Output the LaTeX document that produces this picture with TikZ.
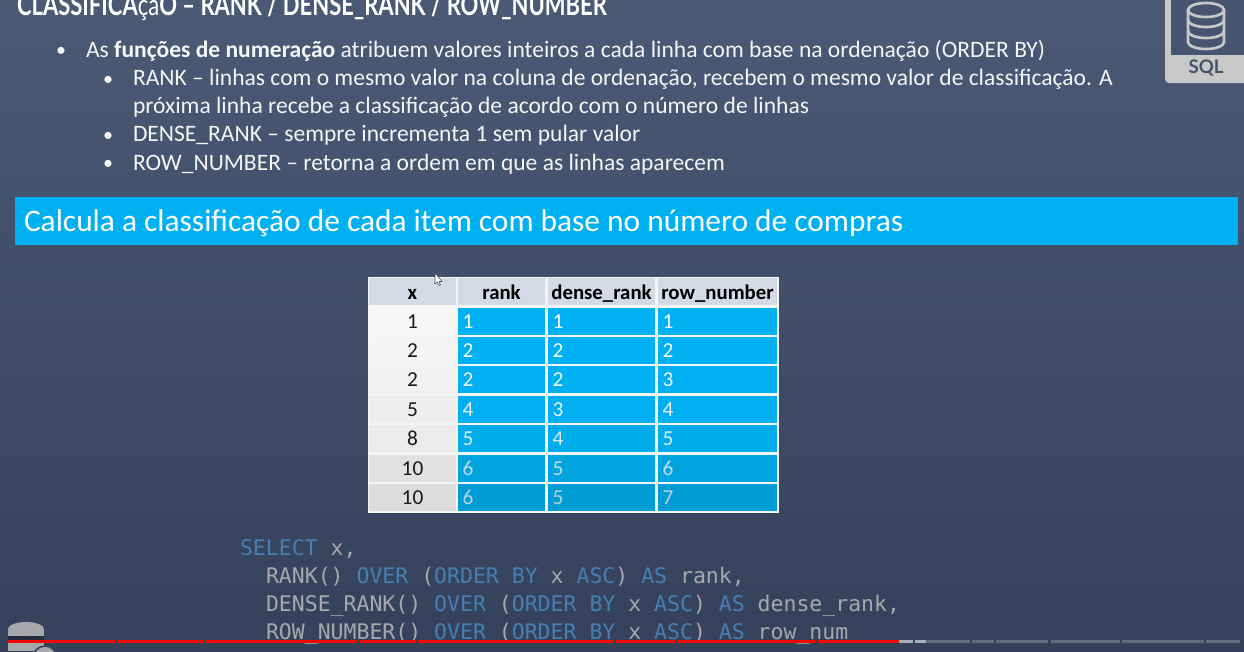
\documentclass[tikz,border=0pt]{standalone}
\usepackage{fontspec}
\setmainfont{Carlito}
\setmonofont{DejaVu Sans Mono}
\newfontfamily\titlefont{Lato}
\usepackage{tikz}
\usetikzlibrary{calc, positioning}

\definecolor{slatetop}{HTML}{4A5A75}
\definecolor{slatebot}{HTML}{35415A}
\definecolor{bannerblue}{HTML}{00B0F0}
\definecolor{deepblue}{HTML}{0098CE}
\definecolor{headgrey}{HTML}{D5D9E4}
\definecolor{iconback}{HTML}{46556F}
\definecolor{iconface}{HTML}{C8C8C8}
\definecolor{keyblue}{HTML}{467FB4}
\definecolor{codegrey}{HTML}{A6A8AC}
\definecolor{barred}{HTML}{FF0000}
\definecolor{barlight}{HTML}{A9AFBA}
\definecolor{bargrey}{HTML}{626C7E}
\definecolor{palenum}{HTML}{A4CADC}
\definecolor{rowlight}{HTML}{F6F6F6}
\definecolor{rowgrey}{HTML}{D8D8D8}

\newcommand{\kw}[1]{\textcolor{keyblue}{#1}}

\tikzset{
   every node/.style = {inner sep=0pt, outer sep=0pt},
   bodytext/.style = {anchor=base west, text=white!94!slatetop, font=\fontsize{17.65pt}{20pt}\selectfont},
   bullettext/.style = {anchor=base west, text=white!94!slatetop, font=\fontsize{15pt}{18pt}\selectfont},
   codeline/.style = {anchor=base west, text=codegrey, font=\ttfamily\fontsize{16.12pt}{19pt}\selectfont},
   headcell/.style = {anchor=north west, fill=headgrey, text=black, minimum height=20.25pt, text height=15pt, text depth=2.5pt, font=\bfseries\fontsize{15.6pt}{18pt}\selectfont},
   firstcell/.style = {anchor=north west, minimum width=65.25pt, minimum height=20.25pt, text height=13pt, text depth=1.8pt, text=black!90, font=\fontsize{16pt}{18pt}\selectfont},
   bluecell/.style = {anchor=north west, minimum height=20.25pt, text height=13pt, text depth=1.8pt, align=left, inner xsep=3.5pt, font=\fontsize{16pt}{18pt}\selectfont},
   barpart/.style = {line width=2.5pt, barred},
   barrest/.style = {line width=2.2pt, bargrey}
}

\begin{document}
\begin{tikzpicture}[x=0.75pt, y=-0.75pt]
   \useasboundingbox (0,0) rectangle (1244,651);
   \clip (0,0) rectangle (1244,651);
   \shade[top color=slatetop, bottom color=slatebot] (0,0) rectangle (1244,651);

   % heading, cut by the page
   \node[anchor=base west, text=white, xscale=0.75, font=\titlefont\bfseries\fontsize{22pt}{24pt}\selectfont] (title)
      at (17,15) {CLASSIFICA\textmd{çã}O – RANK / DENSE\_RANK / ROW\_NUMBER};

   % sql badge
   \fill[iconface, rounded corners=3pt] (1165,-8) rectangle (1260,83);
   \fill[iconback] (1171,-2) rectangle (1250,55);
   \draw[iconface, line width=2pt] (1188,10) -- (1188,42) arc[start angle=180, end angle=0, x radius=18, y radius=7] -- (1224,10);
   \draw[iconface, line width=2pt] (1206,10) ellipse[x radius=18, y radius=7];
   \draw[iconface, line width=2pt] (1188,20) arc[start angle=180, end angle=0, x radius=18, y radius=7];
   \draw[iconface, line width=2pt] (1188,31) arc[start angle=180, end angle=0, x radius=18, y radius=7];
   \node[text=iconback, font=\titlefont\bfseries\fontsize{14pt}{15pt}\selectfont] (sqltag) at (1206,68) {SQL};

   % bullets
   \node[bullettext] (b0) at (56,56) {•};
   \node[bodytext] (l0) at (86,57) {As \textbf{funções de numeração} atribuem valores inteiros a cada linha com base na ordenação (ORDER BY)};
   \node[bullettext] (b1) at (103,85) {•};
   \node[bodytext] (l1) at (133,85) {RANK -- linhas com o mesmo valor na coluna de ordenação, recebem o mesmo valor de classificação. A};
   \node[bodytext] (l2) at (133,113) {próxima linha recebe a classificação de acordo com o número de linhas};
   \node[bullettext] (b2) at (103,141) {•};
   \node[bodytext] (l3) at (133,141.5) {DENSE\_RANK -- sempre incrementa 1 sem pular valor};
   \node[bullettext] (b3) at (103,169) {•};
   \node[bodytext] (l4) at (133,170) {ROW\_NUMBER -- retorna a ordem em que as linhas aparecem};

   % banner
   \fill[bannerblue] (15,197) rectangle (1238,245);
   \node[anchor=base west, text=white, font=\fontsize{23.55pt}{26pt}\selectfont] (banner) at (24,231) {Calcula a classificação de cada item com base no número de compras};

   % table
   \fill[white!94!slatetop] (368,277) rectangle (779,513);
   \node[headcell, minimum width=65.25pt] (hx) at (369,278) {x};
   \node[headcell, minimum width=65.25pt] (hr) at (458,278) {rank};
   \node[headcell, minimum width=80.25pt] (hd) at (548,278) {dense\_rank};
   \node[headcell, minimum width=89.25pt] (hn) at (658,278) {row\_number};

   \foreach \rowid/\rowy/\vx/\va/\vb/\vc/\tone/\pale in {
      1/308/1/1/1/1/100/100,
      2/337/2/2/2/2/100/92,
      3/366/2/2/2/3/100/84,
      4/396/5/4/3/4/96/74,
      5/425/8/5/4/5/82/62,
      6/455/10/6/5/6/48/30,
      7/484/10/6/5/7/20/15}{
      \node[firstcell, fill=rowlight!\pale!rowgrey] (x\rowid) at (369,\rowy) {\vx};
      \node[bluecell, fill=bannerblue!\tone!deepblue, text=white!\pale!palenum, minimum width=65.25pt, text width=58.25pt] (r\rowid) at (458,\rowy) {\va};
      \node[bluecell, fill=bannerblue!\tone!deepblue, text=white!\pale!palenum, minimum width=80.25pt, text width=73.25pt] (d\rowid) at (548,\rowy) {\vb};
      \node[bluecell, fill=bannerblue!\tone!deepblue, text=white!\pale!palenum, minimum width=89.25pt, text width=82.25pt] (n\rowid) at (658,\rowy) {\vc};
   }

   % pointer
   \draw[fill=white, draw=black!70, line width=0.4pt, line join=round]
      (435,273) -- (435,284) -- (437.5,282) -- (439,285.5) -- (440.5,285) -- (439,281.5) -- (442,281.5) -- cycle;

   % query
   \node[codeline] (q1) at (240,555.5) {\kw{SELECT} x,};
   \node[codeline] (q2) at (266,583.5) {RANK() \kw{OVER} (\kw{ORDER BY} x \kw{ASC}) \kw{AS} rank,};
   \node[codeline] (q3) at (266,611.5) {DENSE\_RANK() \kw{OVER} (\kw{ORDER BY} x \kw{ASC}) \kw{AS} dense\_rank,};
   \node[codeline] (q4) at (266,639.5) {ROW\_NUMBER() \kw{OVER} (\kw{ORDER BY} x \kw{ASC}) \kw{AS} row\_num};

   % player corner icon
   \fill[codegrey] (8,629) rectangle (44,651);
   \fill[slatebot!70!black] (8,636) rectangle (44,641);
   \fill[codegrey] (26,629) ellipse[x radius=18, y radius=7];
   \fill[codegrey, draw=slatebot, line width=1.2pt] (45,658) circle[radius=12];

   % progress bar
   \foreach \from/\to in {8/115, 117/203, 205/357, 359/416, 418/614, 616/675, 677/815, 818/899}{
      \draw[barpart] (\from,641.5) -- (\to,641.5);
   }
   \foreach \from/\to in {899/913, 915/926}{
      \draw[barrest, barlight] (\from,641.5) -- (\to,641.5);
   }
   \foreach \from/\to in {926/970, 972/994, 996/1048, 1051/1120, 1122/1204, 1206/1240}{
      \draw[barrest] (\from,641.5) -- (\to,641.5);
   }
\end{tikzpicture}
\end{document}
